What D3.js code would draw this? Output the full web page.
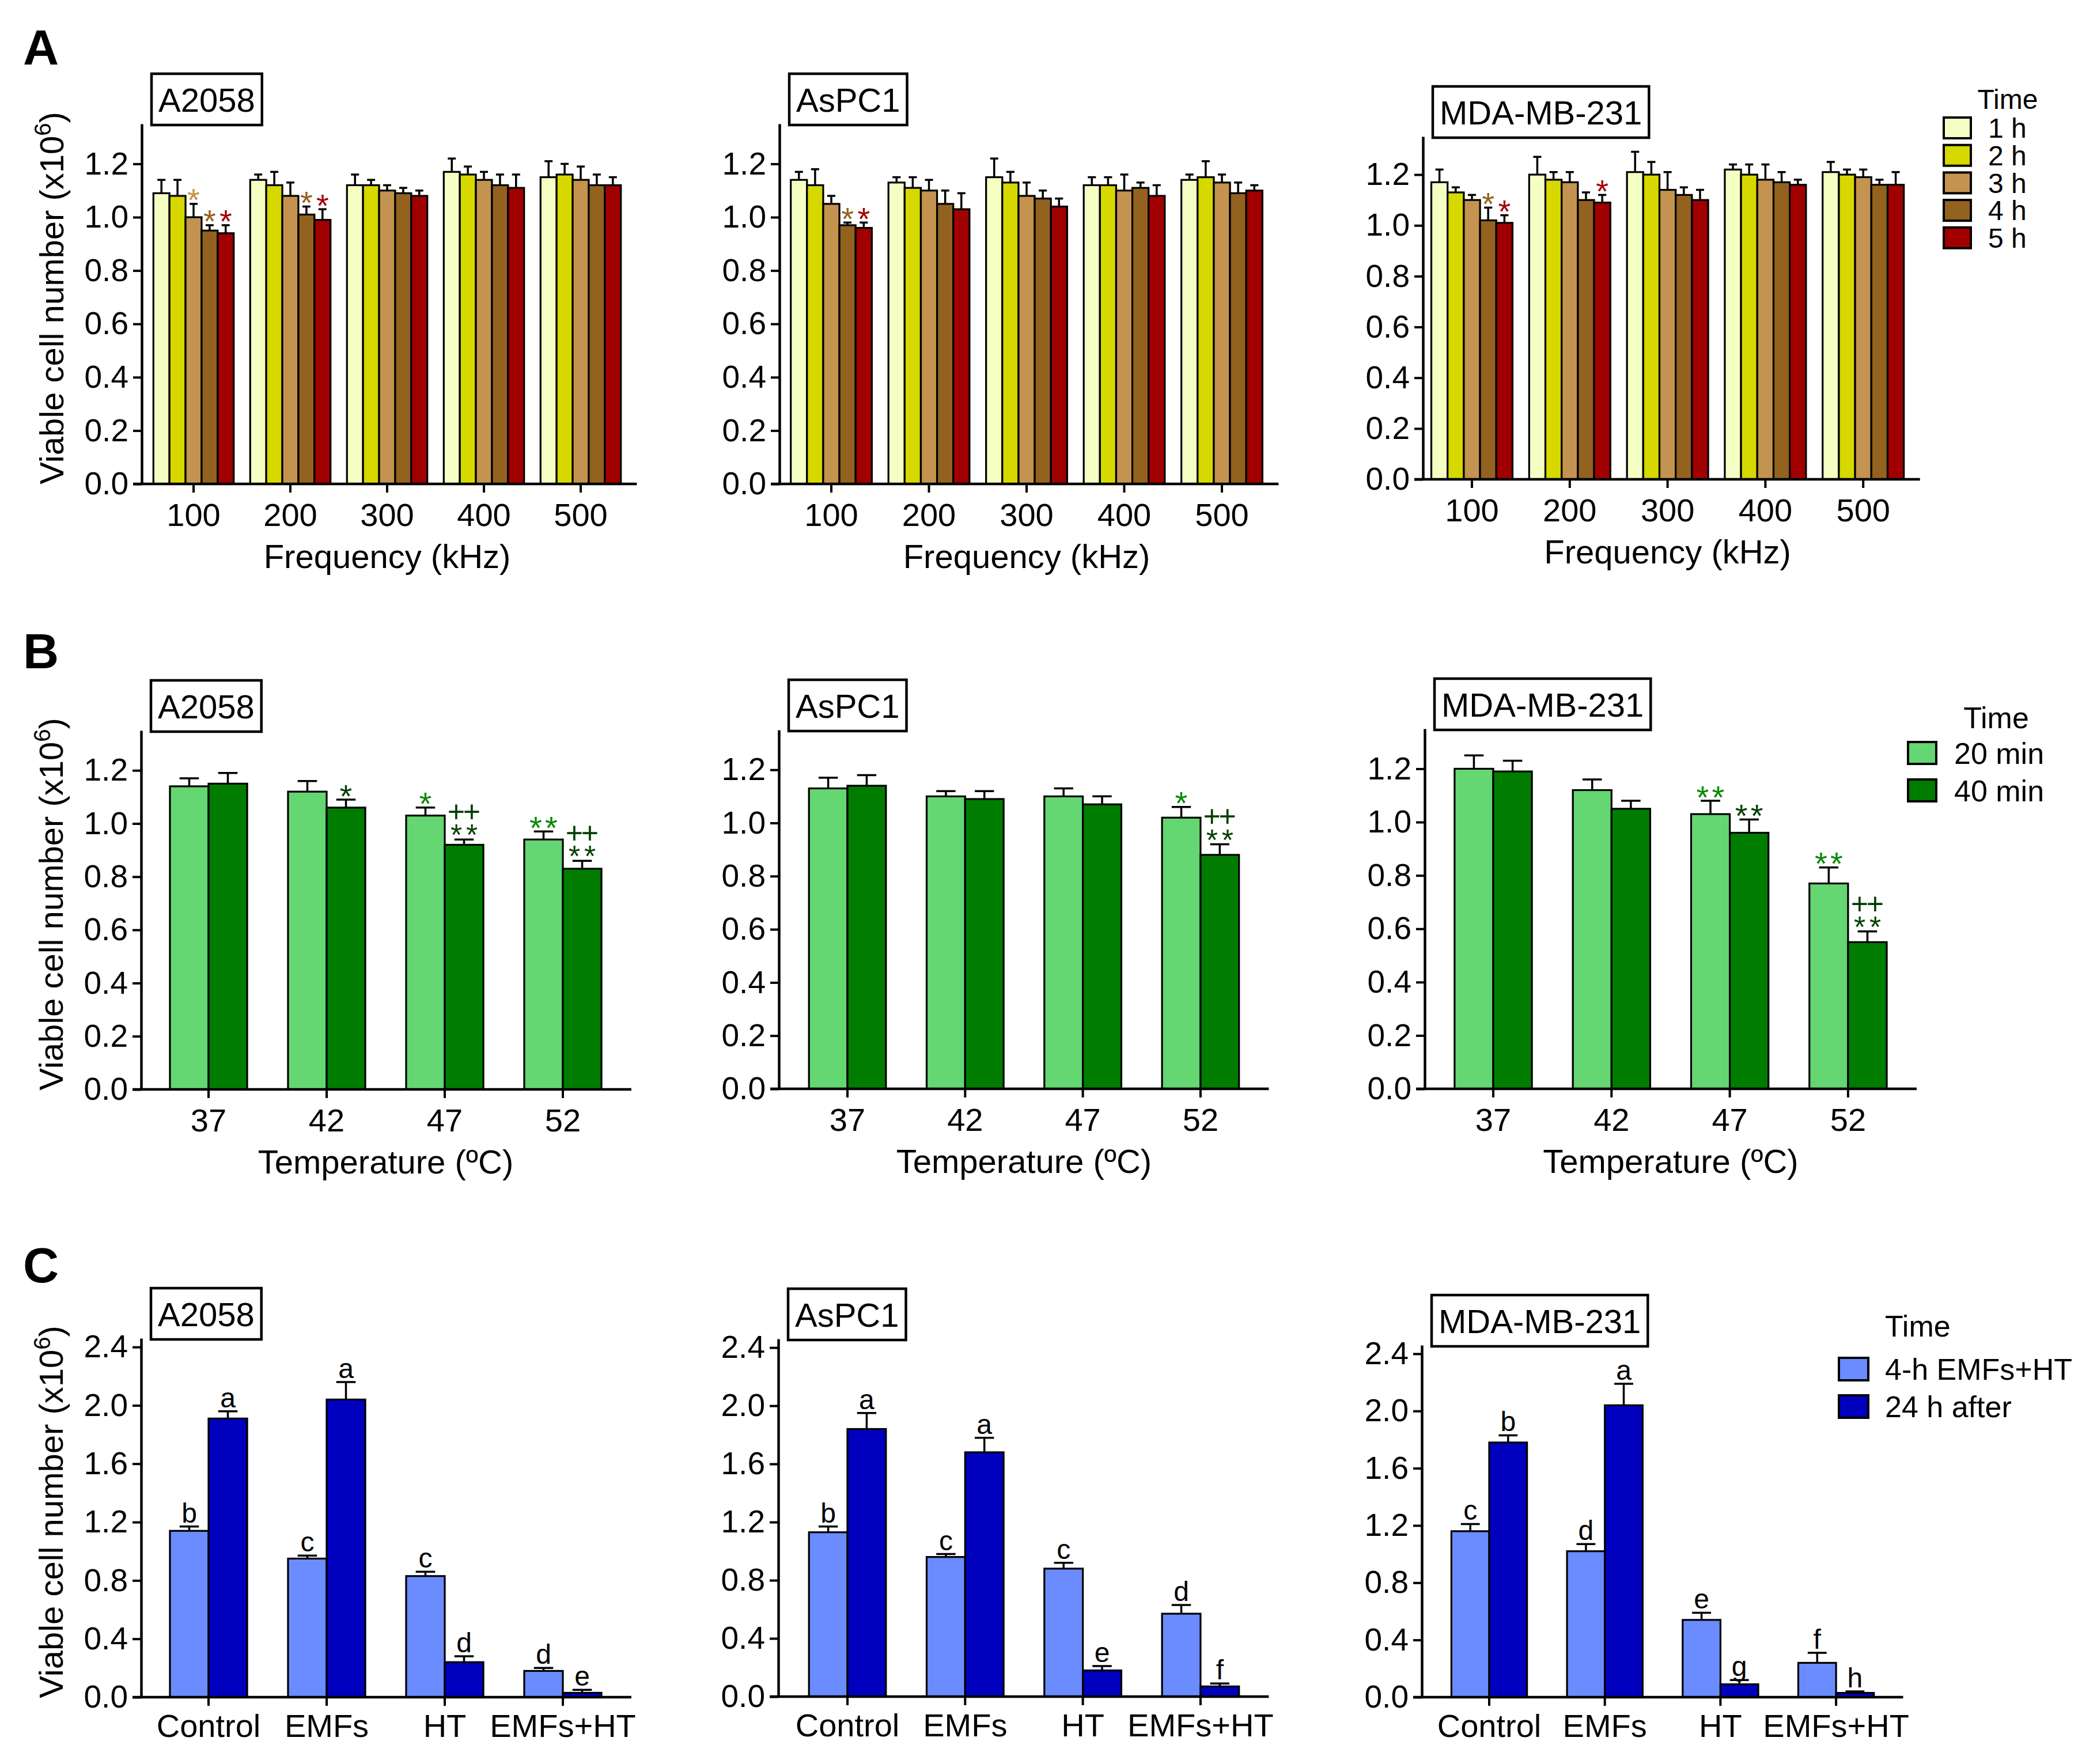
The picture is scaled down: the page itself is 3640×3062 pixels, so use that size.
<!DOCTYPE html>
<html><head><meta charset="utf-8">
<script src="https://cdn.jsdelivr.net/npm/d3@7"></script>
<style>
body{margin:0;background:#fff}
text{font-family:"Liberation Sans",Arial,Helvetica,sans-serif;fill:#000}
</style>
</head><body>
<svg id="chart" width="3640" height="3062"></svg>
<script>
// ---------------- DATA ----------------
const freqCats = ["100","200","300","400","500"];
const tempCats = ["37","42","47","52"];
const treatCats = ["Control","EMFs","HT","EMFs+HT"];
const freqSeries = ["1 h","2 h","3 h","4 h","5 h"];
const tempSeries = ["20 min","40 min"];
const treatSeries = ["4-h EMFs+HT","24 h after"];
const cellLines = ["A2058","AsPC1","MDA-MB-231"];

const freqTicks = [0,0.2,0.4,0.6,0.8,1.0,1.2];
const tempTicks = [0,0.2,0.4,0.6,0.8,1.0,1.2];
const treatTicks = [0,0.4,0.8,1.2,1.6,2.0,2.4];

// Panel A (frequency) : rows = frequency, columns = time
const a2058FreqMean = [[1.09,1.08,1.00,0.95,0.94],[1.14,1.12,1.08,1.01,0.99],[1.12,1.12,1.10,1.09,1.08],[1.17,1.16,1.14,1.12,1.11],[1.15,1.16,1.14,1.12,1.12]];
const a2058FreqErr  = [[0.05,0.06,0.05,0.02,0.03],[0.02,0.05,0.05,0.03,0.04],[0.04,0.02,0.02,0.02,0.02],[0.05,0.03,0.03,0.04,0.05],[0.06,0.04,0.05,0.04,0.03]];
const a2058FreqSig  = [["","","*","*","*"],["","","","*","*"],["","","","",""],["","","","",""],["","","","",""]];

const aspc1FreqMean = [[1.14,1.12,1.05,0.97,0.96],[1.13,1.11,1.10,1.05,1.03],[1.15,1.13,1.08,1.07,1.04],[1.12,1.12,1.10,1.11,1.08],[1.14,1.15,1.13,1.09,1.10]];
const aspc1FreqErr  = [[0.03,0.06,0.03,0.01,0.02],[0.02,0.04,0.04,0.05,0.06],[0.07,0.04,0.05,0.03,0.03],[0.03,0.03,0.06,0.02,0.04],[0.02,0.06,0.03,0.04,0.02]];
const aspc1FreqSig  = [["","","","*","*"],["","","","",""],["","","","",""],["","","","",""],["","","","",""]];

const mdaFreqMean = [[1.17,1.13,1.10,1.02,1.01],[1.20,1.18,1.17,1.10,1.09],[1.21,1.20,1.14,1.12,1.10],[1.22,1.20,1.18,1.17,1.16],[1.21,1.20,1.19,1.16,1.16]];
const mdaFreqErr  = [[0.05,0.02,0.02,0.05,0.03],[0.07,0.03,0.04,0.03,0.03],[0.08,0.05,0.07,0.03,0.04],[0.02,0.04,0.06,0.04,0.02],[0.04,0.02,0.03,0.02,0.05]];
const mdaFreqSig  = [["","","","*","*"],["","","","","*"],["","","","",""],["","","","",""],["","","","",""]];

// Panel B (temperature) : rows = temperature, columns = time
const a2058TempMean = [[1.14,1.15],[1.12,1.06],[1.03,0.92],[0.94,0.83]];
const a2058TempErr  = [[0.03,0.04],[0.04,0.03],[0.03,0.02],[0.03,0.03]];
const a2058TempSig  = [["",""],["","*"],["*","++|**"],["**","++|**"]];

const aspc1TempMean = [[1.13,1.14],[1.10,1.09],[1.10,1.07],[1.02,0.88]];
const aspc1TempErr  = [[0.04,0.04],[0.02,0.03],[0.03,0.03],[0.04,0.04]];
const aspc1TempSig  = [["",""],["",""],["",""],["*","++|**"]];

const mdaTempMean = [[1.20,1.19],[1.12,1.05],[1.03,0.96],[0.77,0.55]];
const mdaTempErr  = [[0.05,0.04],[0.04,0.03],[0.05,0.05],[0.06,0.04]];
const mdaTempSig  = [["",""],["",""],["**","**"],["**","++|**"]];

// Panel C (treatment) : rows = treatment, columns = time
const a2058TreatMean = [[1.14,1.91],[0.95,2.04],[0.83,0.24],[0.18,0.03]];
const a2058TreatErr  = [[0.03,0.05],[0.02,0.12],[0.03,0.04],[0.02,0.02]];
const a2058TreatSig  = [["b","a"],["c","a"],["c","d"],["d","e"]];

const aspc1TreatMean = [[1.13,1.84],[0.96,1.68],[0.88,0.18],[0.57,0.07]];
const aspc1TreatErr  = [[0.04,0.11],[0.02,0.10],[0.04,0.03],[0.06,0.02]];
const aspc1TreatSig  = [["b","a"],["c","a"],["c","e"],["d","f"]];

const mdaTreatMean = [[1.16,1.78],[1.02,2.04],[0.54,0.09],[0.24,0.03]];
const mdaTreatErr  = [[0.05,0.05],[0.05,0.15],[0.05,0.03],[0.07,0.01]];
const mdaTreatSig  = [["c","b"],["d","a"],["e","g"],["f","h"]];

// ---------------- STYLE ----------------
const freqColors = ["#F5FFC4","#D6D800","#C4934F","#93621F","#A00000"];
const freqSigColors = ["#C4934F","#D6D800","#C4934F","#93621F","#A00000"];
const tempColors = ["#64D672","#007C00"];
const tempSigColors = ["#078A07","#003F00"];
const treatColors = ["#6A8CFF","#0000BE"];

const svg = d3.select("#chart");
svg.append("rect").attr("width",3640).attr("height",3062).attr("fill","#fff");

const FONT = 58;

function drawPanel(cfg){
  const g = svg.append("g");
  const n = cfg.cats.length;
  const r0 = cfg.c0 - cfg.step/2;
  const x = d3.scaleBand().domain(cfg.cats).range([r0, r0 + n*cfg.step])
              .paddingInner(cfg.pi).paddingOuter(cfg.pi/2);
  const xs = d3.scaleBand().domain(cfg.series).range([0, x.bandwidth()]);
  const y = d3.scaleLinear().domain([0, cfg.ymax]).range([cfg.y0, cfg.yTop]);

  const rows = [];
  cfg.cats.forEach((c,i)=>cfg.series.forEach((s,j)=>{
    rows.push({c, s, j, v:cfg.mean[i][j], e:cfg.err[i][j], sig:cfg.sig[i][j]});
  }));

  // bars
  g.selectAll("rect.bar").data(rows).join("rect")
    .attr("x", d=>x(d.c)+xs(d.s))
    .attr("y", d=>y(d.v))
    .attr("width", xs.bandwidth())
    .attr("height", d=>y(0)-y(d.v))
    .attr("fill", d=>cfg.colors[d.j])
    .attr("stroke","#000").attr("stroke-width",3.2);

  // error bars
  const capW = xs.bandwidth()*0.5;
  const eg = g.append("g").attr("stroke","#000").attr("stroke-width",3.5);
  rows.forEach(d=>{
    const cx = x(d.c)+xs(d.s)+xs.bandwidth()/2;
    eg.append("line").attr("x1",cx).attr("x2",cx).attr("y1",y(d.v)).attr("y2",y(d.v+d.e));
    eg.append("line").attr("x1",cx-capW/2).attr("x2",cx+capW/2).attr("y1",y(d.v+d.e)).attr("y2",y(d.v+d.e));
  });

  // annotations
  rows.filter(d=>d.sig).forEach(d=>{
    const cx = x(d.c)+xs(d.s)+xs.bandwidth()/2;
    const capTop = y(d.v+d.e);
    if(cfg.sigType==="letter"){
      g.append("text").attr("x",cx).attr("y",capTop-7).attr("text-anchor","middle")
        .attr("font-size",48).text(d.sig);
    } else {
      // one text node, each character placed individually (stacked "++" over "**")
      const lines = d.sig.split("|");
      const fs = lines.length>1 ? 52 : 56;
      const xsList = [], ysList = [];
      let str = "";
      lines.forEach((ln,i)=>{
        const fromBottom = lines.length-1-i;
        const isPlus = ln[0]==="+";
        const off = isPlus ? 0.34*fs : 0.58*fs;
        const cy = capTop - 20 - 28*fromBottom;
        ln.split("").forEach((ch,k)=>{
          xsList.push((cx + (k-(ln.length-1)/2)*27).toFixed(1));
          ysList.push((cy+off).toFixed(1));
          str += ch;
        });
      });
      g.append("text").attr("text-anchor","middle").attr("font-size",fs)
        .attr("x",xsList.join(" ")).attr("y",ysList.join(" "))
        .style("fill",cfg.sigColors[d.j]).text(str);
    }
  });

  // y axis
  const ya = g.append("g").attr("transform",`translate(${cfg.x0},0)`)
    .call(d3.axisLeft(y).tickValues(cfg.ticks).tickFormat(d3.format(".1f")).tickSize(15).tickSizeOuter(0).tickPadding(8));
  ya.select(".domain").attr("stroke-width",4.5);
  ya.selectAll(".tick line").attr("stroke-width",4);
  ya.selectAll(".tick text").attr("font-size",55).attr("font-family",null);

  // x axis
  const xa = g.append("g").attr("transform",`translate(0,${cfg.y0})`)
    .call(d3.axisBottom(x).tickSize(15).tickSizeOuter(0).tickPadding(cfg.xPad));
  xa.select(".domain").remove();
  xa.selectAll(".tick line").attr("stroke-width",4);
  xa.selectAll(".tick text").attr("font-size",56).attr("font-family",null);
  const lastC = x(cfg.cats[n-1]) + x.bandwidth()/2;
  g.append("line").attr("x1",cfg.x0-15).attr("x2",lastC+cfg.step*0.58)
    .attr("y1",cfg.y0).attr("y2",cfg.y0).attr("stroke","#000").attr("stroke-width",4.5);

  // x title
  if(cfg.xTitle){
    const firstC = x(cfg.cats[0]) + x.bandwidth()/2;
    g.append("text").attr("x",(firstC+lastC)/2).attr("y",cfg.y0+146)
      .attr("text-anchor","middle").attr("font-size",FONT).text(cfg.xTitle);
  }
  // y title
  if(cfg.yTitle){
    const t = g.append("text")
      .attr("transform",`translate(${cfg.x0-136},${(cfg.y0+cfg.yTop)/2-10}) rotate(-90)`)
      .attr("text-anchor","middle").attr("font-size",FONT);
    t.append("tspan").text("Viable cell number (x10");
    t.append("tspan").attr("font-size",40).attr("dy",-22).text("6");
    t.append("tspan").attr("dy",22).text(")");
  }
  // cell-line box
  const bx = cfg.x0 + 17, by = cfg.yTop - 87, bh = 89;
  const bt = g.append("text").attr("x",bx+12).attr("y",by+bh/2+21).attr("font-size",FONT).text(cfg.label);
  const tw = bt.node().getComputedTextLength();
  g.insert("rect","text").attr("x",bx).attr("y",by).attr("width",tw+24).attr("height",bh)
    .attr("fill","none").attr("stroke","#000").attr("stroke-width",4.5);
}

function drawLegend(cfg){
  const g = svg.append("g");
  g.append("text").attr("x",cfg.titleX).attr("y",cfg.titleY).attr("text-anchor",cfg.titleAnchor)
    .attr("font-size",cfg.fs).text("Time");
  cfg.series.forEach((s,i)=>{
    const top = cfg.sqY + i*cfg.pitch;
    g.append("rect").attr("x",cfg.sqX).attr("y",top).attr("width",cfg.sqW).attr("height",cfg.sqH)
      .attr("fill",cfg.colors[i]).attr("stroke","#000").attr("stroke-width",4);
    g.append("text").attr("x",cfg.labX).attr("y",top+cfg.sqH/2+0.36*cfg.fs)
      .attr("font-size",cfg.fs).text(s);
  });
}

// panel letters
[["A",112],["B",1160],["C",2226]].forEach(([t,yy])=>{
  svg.append("text").attr("x",40).attr("y",yy).attr("font-size",86).attr("font-weight","bold").text(t);
});

const freqBase = {cats:freqCats, series:freqSeries, colors:freqColors, sigColors:freqSigColors, ticks:freqTicks, ymax:1.35, pi:0.17, xPad:18, sigType:"star", xTitle:"Frequency (kHz)"};
drawPanel({...freqBase, label:cellLines[0], mean:a2058FreqMean, err:a2058FreqErr, sig:a2058FreqSig, x0:246, c0:336, step:168, y0:840, yTop:215, yTitle:true});
drawPanel({...freqBase, label:cellLines[1], mean:aspc1FreqMean, err:aspc1FreqErr, sig:aspc1FreqSig, x0:1353, c0:1443, step:169.5, y0:840, yTop:215});
drawPanel({...freqBase, label:cellLines[2], mean:mdaFreqMean, err:mdaFreqErr, sig:mdaFreqSig, x0:2470, c0:2555, step:169.8, y0:832, yTop:237});
drawLegend({series:freqSeries, colors:freqColors, fs:48, titleX:3485, titleY:189, titleAnchor:"middle", sqX:3374, sqY:204, sqW:47, sqH:36, pitch:47.7, labX:3451});

const tempBase = {cats:tempCats, series:tempSeries, colors:tempColors, sigColors:tempSigColors, ticks:tempTicks, ymax:1.35, pi:0.346, xPad:18, sigType:"star", xTitle:"Temperature (ºC)"};
drawPanel({...tempBase, label:cellLines[0], mean:a2058TempMean, err:a2058TempErr, sig:a2058TempSig, x0:245, c0:362, step:205, y0:1891, yTop:1268, yTitle:true});
drawPanel({...tempBase, label:cellLines[1], mean:aspc1TempMean, err:aspc1TempErr, sig:aspc1TempSig, x0:1352, c0:1471, step:204.3, y0:1890, yTop:1267});
drawPanel({...tempBase, label:cellLines[2], mean:mdaTempMean, err:mdaTempErr, sig:mdaTempSig, x0:2473, c0:2592, step:205.3, y0:1890, yTop:1265});
drawLegend({series:tempSeries, colors:tempColors, fs:52, titleX:3465, titleY:1264, titleAnchor:"middle", sqX:3312, sqY:1288, sqW:49, sqH:38, pitch:65, labX:3392});

const treatBase = {cats:treatCats, series:treatSeries, colors:treatColors, sigColors:treatColors, ticks:treatTicks, ymax:2.46, pi:0.346, xPad:14, sigType:"letter", xTitle:null};
drawPanel({...treatBase, label:cellLines[0], mean:a2058TreatMean, err:a2058TreatErr, sig:a2058TreatSig, x0:245, c0:362, step:205, y0:2946, yTop:2323, yTitle:true});
drawPanel({...treatBase, label:cellLines[1], mean:aspc1TreatMean, err:aspc1TreatErr, sig:aspc1TreatSig, x0:1351, c0:1471, step:204.3, y0:2945, yTop:2324});
drawPanel({...treatBase, label:cellLines[2], mean:mdaTreatMean, err:mdaTreatErr, sig:mdaTreatSig, x0:2468, c0:2585, step:200.7, y0:2946, yTop:2335});
drawLegend({series:treatSeries, colors:treatColors, fs:52, titleX:3272, titleY:2320, titleAnchor:"start", sqX:3192, sqY:2357, sqW:51, sqH:39, pitch:65, labX:3272});
</script>
</body></html>
